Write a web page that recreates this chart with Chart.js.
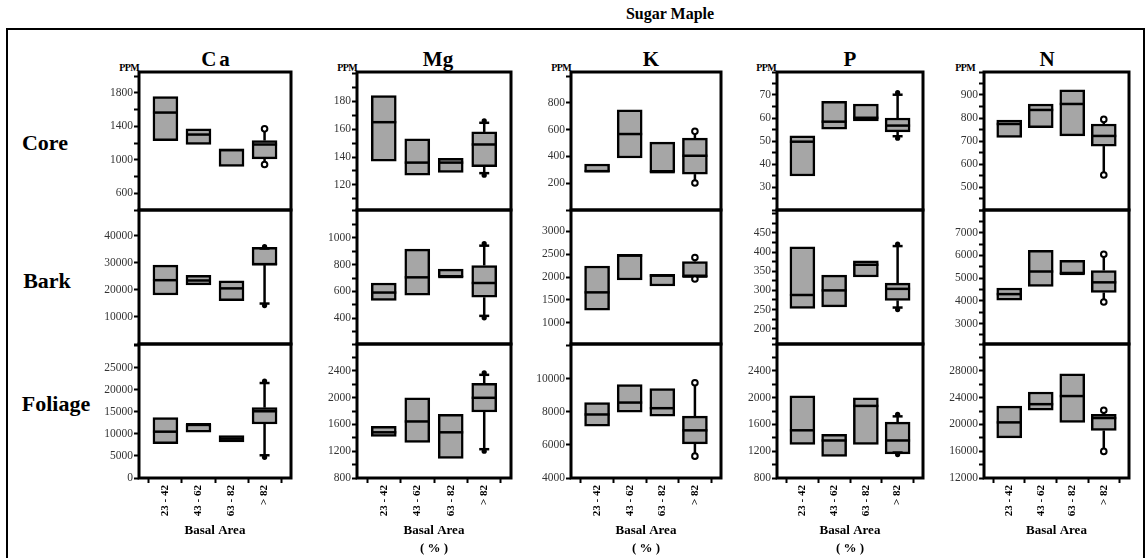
<!DOCTYPE html>
<html>
<head>
<meta charset="utf-8">
<script src="https://cdn.jsdelivr.net/npm/chart.js@4.4.1/dist/chart.umd.min.js"></script>
<style>
  body { margin: 0; width: 1146px; height: 558px; overflow: hidden; background: #fff; position: relative;
         font-family: 'Liberation Serif', 'Times New Roman', serif; }
  .t { position: absolute; font-weight: bold; white-space: nowrap; color: #000; transform: translate(-50%, -50%); }
  .ppm { position: absolute; font-weight: bold; font-size: 10px; letter-spacing: -0.6px; transform: translate(-100%, -50%); }
  canvas { position: absolute; }
  #frame { position: absolute; left: 6px; top: 28px; width: 1135px; height: 600px; border: 2px solid #000; }
</style>
</head>
<body>
<div id="frame"></div>
<div class="t" style="left:670px;top:14px;font-size:16px">Sugar Maple</div>
<div class="t" style="left:45px;top:143px;font-size:22px">Core</div>
<div class="t" style="left:47px;top:281px;font-size:22px">Bark</div>
<div class="t" style="left:56px;top:404px;font-size:22px">Foliage</div>
<div id="heads"></div>

<script>
const categories = ['23 - 42', '43 - 62', '63 - 82', '> 82'];
const elements = ['Ca', 'Mg', 'K', 'P', 'N'];

// each box: [low whisker, q1, median, q3, high whisker]  (PPM)
const caCore    = [[null, 1230, 1565, 1756, null], [null, 1183, 1302, 1370, null], [null, 920, 1115, 1131, null], [944, 1012, 1183, 1230, 1370]];
const caBark    = [[null, 18100, 23575, 29160, null], [null, 21860, 23460, 25400, null], [null, 16020, 20550, 23320, null], [14200, 29160, 29500, 35730, 36000]];
const caFoliage = [[null, 7790, 10510, 13690, null], [null, 10370, 12200, 12260, null], [null, 8170, 8920, 9600, null], [4700, 12260, 15140, 15960, 22000]];

const mgCore    = [[null, 137, 165, 184, null], [null, 127, 136, 153, null], [null, 129, 136, 139, null], [127, 133, 149, 158, 166]];
const mgBark    = [[null, 533, 592, 663, null], [null, 572, 705, 914, null], [null, 707, 708, 766, null], [404, 557, 663, 793, 955]];
const mgFoliage = [[null, 1421, 1482, 1573, null], [null, 1330, 1644, 1997, null], [null, 1092, 1482, 1750, null], [1200, 1785, 1997, 2213, 2370]];

const kCore    = [[null, 283, 290, 343, null], [null, 388, 567, 748, null], [null, 283, 283, 507, null], [201, 268, 405, 537, 587]];
const kBark    = [[null, 1273, 1663, 2242, null], [null, 1934, 2470, 2500, null], [null, 1802, 2030, 2059, null], [1956, 2009, 2009, 2339, 2427]];
const kFoliage = [[null, 7140, 7840, 8560, null], [null, 7980, 8560, 9640, null], [null, 7740, 8220, 9400, null], [5320, 6060, 6880, 7740, 9760]];

const pCore    = [[null, 34.8, 49.7, 52.2, null], [null, 55.1, 58.4, 67.3, null], [null, 58.7, 60.1, 66.1, null], [51.2, 54, 56.7, 60, 71]];
const pBark    = [[null, 253, 288, 414, null], [null, 257, 300, 340, null], [null, 335, 367, 377, null], [250, 274, 304, 319, 421]];
const pFoliage = [[null, 1300, 1512, 2027, null], [null, 1123, 1360, 1451, null], [null, 1300, 1876, 1997, null], [1150, 1160, 1360, 1633, 1750]];

const nCore    = [[null, 716, 774, 791, null], [null, 758, 835, 861, null], [null, 722, 861, 922, null], [552, 678, 722, 774, 794]];
const nBark    = [[null, 4030, 4297, 4565, null], [null, 4636, 5292, 6228, null], [null, 5189, 5190, 5782, null], [3950, 4369, 4815, 5336, 6050]];
const nFoliage = [[null, 18000, 20300, 22720, null], [null, 22120, 23020, 24840, null], [null, 20300, 24230, 27550, null], [15970, 19100, 20950, 21510, 22120]];

// y axes: [min, max, tick step] and the labelled ticks
const caCoreAxis = [400, 2050, 200],     caCoreLabels = [600, 1000, 1400, 1800];
const caBarkAxis = [0, 49500, 10000],    caBarkLabels = [10000, 20000, 30000, 40000];
const caFolAxis  = [0, 30400, 5000],     caFolLabels  = [0, 5000, 10000, 15000, 20000, 25000];
const mgCoreAxis = [102, 201, 10],       mgCoreLabels = [120, 140, 160, 180];
const mgBarkAxis = [210, 1205, 100],     mgBarkLabels = [400, 600, 800, 1000];
const mgFolAxis  = [800, 2800, 200],     mgFolLabels  = [800, 1200, 1600, 2000, 2400];
const kCoreAxis  = [0, 1030, 200],       kCoreLabels  = [200, 400, 600, 800];
const kBarkAxis  = [530, 3470, 500],     kBarkLabels  = [1000, 1500, 2000, 2500, 3000];
const kFolAxis   = [4000, 12100, 2000],  kFolLabels   = [4000, 6000, 8000, 10000];
const pCoreAxis  = [20, 80, 5],          pCoreLabels  = [30, 40, 50, 60, 70];
const pBarkAxis  = [160, 510, 25],       pBarkLabels  = [200, 250, 300, 350, 400, 450];
const pFolAxis   = [800, 2800, 200],     pFolLabels   = [800, 1200, 1600, 2000, 2400];
const nCoreAxis  = [400, 1000, 50],      nCoreLabels  = [500, 600, 700, 800, 900];
const nBarkAxis  = [2100, 8000, 500],    nBarkLabels  = [3000, 4000, 5000, 6000, 7000];
const nFolAxis   = [12000, 32000, 2000], nFolLabels   = [12000, 16000, 20000, 24000, 28000];

const grid = [
  [[caCore, caCoreAxis, caCoreLabels, 'o'], [mgCore, mgCoreAxis, mgCoreLabels, 'cap'], [kCore, kCoreAxis, kCoreLabels, 'o'], [pCore, pCoreAxis, pCoreLabels, 'cap'], [nCore, nCoreAxis, nCoreLabels, 'o']],
  [[caBark, caBarkAxis, caBarkLabels, 'cap'], [mgBark, mgBarkAxis, mgBarkLabels, 'cap'], [kBark, kBarkAxis, kBarkLabels, 'o'], [pBark, pBarkAxis, pBarkLabels, 'cap'], [nBark, nBarkAxis, nBarkLabels, 'o']],
  [[caFoliage, caFolAxis, caFolLabels, 'cap'], [mgFoliage, mgFolAxis, mgFolLabels, 'cap'], [kFoliage, kFolAxis, kFolLabels, 'o'], [pFoliage, pFolAxis, pFolLabels, 'cap'], [nFoliage, nFolAxis, nFolLabels, 'o']]
];

// layout
const plotLeft = [139, 357, 571, 777, 984];
const plotWidth = [152, 154, 150, 146, 145];
const rowTop = [72, 210, 344], rowBottom = [210, 344, 478];
const titleX = [217, 438, 651, 850, 1047];
const ppmRight = [139, 357, 571, 776, 975];
const AXW = 40, PAD = 8, XAXH = 80;
const FONT = "'Liberation Serif', 'Times New Roman', serif";

Chart.defaults.font.family = FONT;

const heads = document.getElementById('heads');
elements.forEach((el, c) => {
  const t = document.createElement('div');
  t.className = 't';
  t.style.cssText = `left:${titleX[c]}px;top:59px;font-size:21px;` + (el === 'Ca' ? 'letter-spacing:3px' : '');
  t.textContent = el;
  heads.appendChild(t);
  const p = document.createElement('div');
  p.className = 'ppm';
  p.style.cssText = `left:${ppmRight[c]}px;top:67px`;
  p.textContent = 'PPM';
  heads.appendChild(p);
});

const boxPlugin = {
  id: 'boxplot',
  afterDatasetsDraw(chart, args, opts) {
    const { ctx, scales: { y } } = chart;
    const meta = chart.getDatasetMeta(0);
    ctx.save();
    ctx.strokeStyle = '#000';
    ctx.fillStyle = '#000';
    ctx.lineWidth = 2.5;
    opts.boxes.forEach((b, i) => {
      const bar = meta.data[i];
      const half = bar.width / 2;
      const ym = y.getPixelForValue(b[2]);
      ctx.beginPath();
      ctx.moveTo(bar.x - half, ym);
      ctx.lineTo(bar.x + half, ym);
      ctx.stroke();
      [[b[0], b[1]], [b[4], b[3]]].forEach(([end, edge]) => {
        if (end == null) return;
        const y0 = y.getPixelForValue(edge), y1 = y.getPixelForValue(end);
        ctx.lineWidth = 2.5;
        ctx.beginPath();
        ctx.moveTo(bar.x, y0);
        ctx.lineTo(bar.x, y1);
        ctx.stroke();
        if (opts.mark === 'o') {
          ctx.beginPath();
          ctx.arc(bar.x, y1, 2.8, 0, Math.PI * 2);
          ctx.fillStyle = '#fff';
          ctx.fill();
          ctx.lineWidth = 2;
          ctx.stroke();
          ctx.fillStyle = '#000';
        } else {
          const cy = y1 + (y1 > y0 ? -2 : 2);
          ctx.beginPath();
          ctx.moveTo(bar.x - 5, cy);
          ctx.lineTo(bar.x + 5, cy);
          ctx.stroke();
          ctx.beginPath();
          ctx.arc(bar.x, y1, 2.6, 0, Math.PI * 2);
          ctx.fill();
        }
      });
    });
    ctx.restore();
  },
  afterDraw(chart) {
    const { ctx, chartArea: a } = chart;
    ctx.save();
    ctx.strokeStyle = '#000';
    ctx.lineWidth = 3;
    ctx.strokeRect(a.left, a.top, a.right - a.left, a.bottom - a.top);
    ctx.restore();
  }
};

grid.forEach((row, r) => {
  row.forEach(([boxes, axis, labels, mark], c) => {
    const bottomRow = r === 2;
    const cv = document.createElement('canvas');
    const w = AXW + plotWidth[c] + PAD;
    const h = PAD + (rowBottom[r] - rowTop[r]) + (bottomRow ? XAXH : PAD);
    cv.width = w; cv.height = h;
    cv.style.left = (plotLeft[c] - AXW) + 'px';
    cv.style.top = (rowTop[r] - PAD) + 'px';
    cv.style.width = w + 'px'; cv.style.height = h + 'px';
    document.body.appendChild(cv);

    new Chart(cv, {
      type: 'bar',
      data: {
        datasets: [{
          data: boxes.map((b, i) => ({ x: i + 1, y: [b[1], b[3]] })),
          backgroundColor: '#a6a6a6',
          borderColor: '#000',
          borderWidth: 2.5,
          borderSkipped: false,
          barThickness: 25
        }]
      },
      options: {
        responsive: false,
        animation: false,
        devicePixelRatio: 1,
        layout: { padding: { left: 0, top: PAD, right: PAD, bottom: bottomRow ? 0 : PAD } },
        plugins: {
          legend: { display: false },
          tooltip: { enabled: false },
          boxplot: { boxes, mark }
        },
        scales: {
          x: {
            type: 'linear', min: 0.2, max: 4.8, offset: false, display: bottomRow,
            afterBuildTicks: s => { s.ticks = categories.map((_, i) => ({ value: i + 1 })); },
            afterFit: s => { s.height = bottomRow ? XAXH : 0; },
            grid: { drawOnChartArea: false, drawTicks: true, tickLength: 5, tickColor: '#000', tickWidth: 2 },
            border: { display: false },
            ticks: {
              autoSkip: false, minRotation: 90, maxRotation: 90, padding: 2, color: '#000',
              font: { size: 11, weight: 'bold' },
              callback: v => categories[v - 1]
            },
            title: {
              display: true,
              text: ['Basal Area', (c >= 1 && c <= 3) ? '( % )' : ''],
              color: '#000',
              font: { size: 13, weight: 'bold', lineHeight: 1.4 },
              padding: { top: 0, bottom: 0 }
            }
          },
          y: {
            min: axis[0], max: axis[1],
            afterBuildTicks: s => {
              const t = [];
              for (let v = Math.ceil(axis[0] / axis[2]) * axis[2]; v <= axis[1] + 1e-9; v += axis[2]) t.push({ value: +v.toFixed(4) });
              s.ticks = t;
            },
            afterFit: s => { s.width = AXW; },
            grid: { drawOnChartArea: false, drawTicks: true, tickLength: 5, tickColor: '#000', tickWidth: 2 },
            border: { display: false },
            ticks: {
              autoSkip: false, padding: 1, color: '#333', font: { size: 11.5 },
              callback: v => labels.includes(v) ? String(v) : ''
            }
          }
        }
      },
      plugins: [boxPlugin]
    });
  });
});
</script>
</body>
</html>
